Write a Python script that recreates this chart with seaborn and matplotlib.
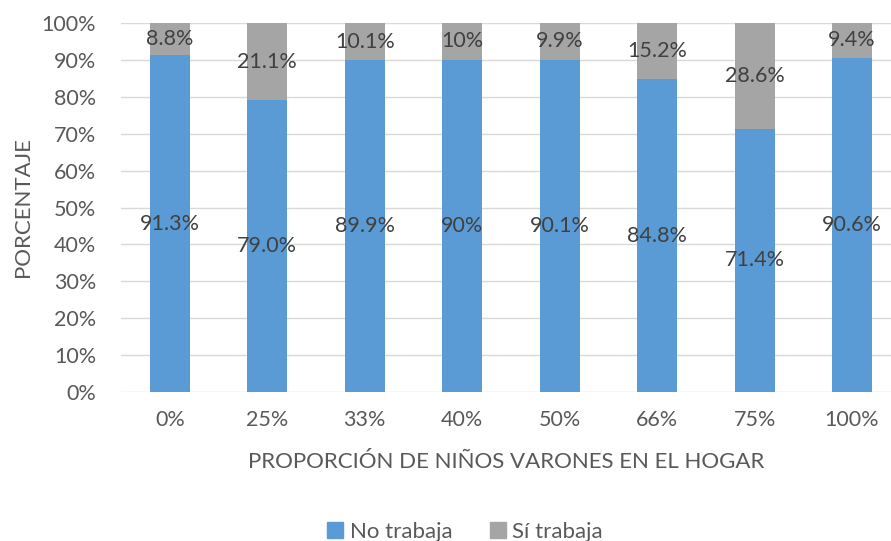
import pandas as pd
import matplotlib
matplotlib.use("Agg")
import matplotlib.pyplot as plt
import seaborn as sns
from matplotlib.patches import Patch

categories = ["0%", "25%", "33%", "40%", "50%", "66%", "75%", "100%"]
no_trabaja = [91.3, 79.0, 89.9, 90.0, 90.1, 84.8, 71.4, 90.6]
si_trabaja = [8.8, 21.1, 10.1, 10.0, 9.9, 15.2, 28.6, 9.4]
no_labels = ["91.3%", "79.0%", "89.9%", "90%", "90.1%", "84.8%", "71.4%", "90.6%"]
si_labels = ["8.8%", "21.1%", "10.1%", "10%", "9.9%", "15.2%", "28.6%", "9.4%"]

BLUE = "#5B9BD5"
GRAY = "#A5A5A5"
TXT = "#595959"
FS = 15.5

sns.set_style("white")
plt.rcParams["font.family"] = ["Lato", "DejaVu Sans"]

df = pd.DataFrame({"cat": categories, "no": no_trabaja, "si": si_trabaja})
df["total"] = (df["no"] + df["si"]).clip(upper=100)

fig = plt.figure(figsize=(8.91, 5.41), dpi=100)
ax = fig.add_axes([0.136, 0.2754, 0.864, 0.6821])

sns.barplot(data=df, x="cat", y="total", color=GRAY, width=0.41,
            saturation=1, linewidth=0, ax=ax, zorder=2)
sns.barplot(data=df, x="cat", y="no", color=BLUE, width=0.41,
            saturation=1, linewidth=0, ax=ax, zorder=3)

for i in range(len(categories)):
    ax.text(i, no_trabaja[i] / 2, no_labels[i], ha="center", va="center",
            fontsize=FS, color="#404040", zorder=4)
    ax.text(i, no_trabaja[i] + si_trabaja[i] / 2, si_labels[i], ha="center",
            va="center", fontsize=FS, color="#404040", zorder=4)

ax.set_ylim(0, 100)
ax.set_xlim(-0.5, 7.4)
ax.set_yticks(range(0, 101, 10))
ax.set_yticklabels([f"{v}%" for v in range(0, 101, 10)])
ax.yaxis.grid(True, color="#D9D9D9", linewidth=1, zorder=0)
ax.set_axisbelow(True)
for s in ax.spines.values():
    s.set_visible(False)
ax.tick_params(axis="both", length=0, labelsize=FS, labelcolor=TXT)
ax.tick_params(axis="x", pad=13)
ax.tick_params(axis="y", pad=18)

ax.set_xlabel("PROPORCIÓN DE NIÑOS VARONES EN EL HOGAR", fontsize=16,
              color=TXT, labelpad=16)
ax.set_ylabel("PORCENTAJE", fontsize=16, color=TXT, labelpad=6)

handles = [Patch(color=BLUE, label="No trabaja"), Patch(color=GRAY, label="Sí trabaja")]
fig.legend(handles=handles, loc="lower center", bbox_to_anchor=(0.522, -0.038),
           ncol=2, frameon=False, fontsize=16, labelcolor=TXT,
           handlelength=0.7, handleheight=0.7, handletextpad=0.3,
           columnspacing=1.7)

fig.savefig("out.png", dpi=100)
